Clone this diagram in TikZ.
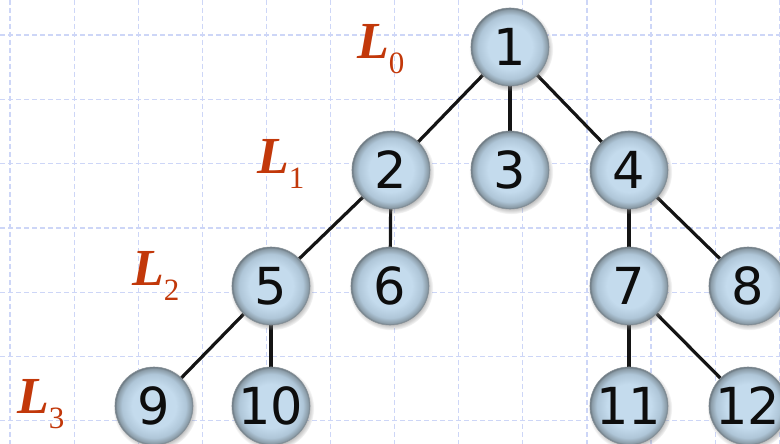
\documentclass[tikz,border=0pt]{standalone}
\usepackage{fontspec}
\setmainfont{Liberation Serif}
\newfontfamily\numfont{DejaVu Sans}
\usetikzlibrary{shadows}
\definecolor{ballin}{HTML}{C4DBED}
\definecolor{ballmid}{HTML}{AFC6D8}
\definecolor{ballout}{HTML}{8C9DA9}
\definecolor{ballrim}{HTML}{6A7780}
\definecolor{gridc}{HTML}{CDD6F7}
\definecolor{lblred}{HTML}{C2380A}
\pgfdeclareradialshading{treeball}{\pgfpoint{0bp}{0bp}}{color(0bp)=(ballin); color(14bp)=(ballin); color(20.5bp)=(ballmid); color(23.8bp)=(ballout); color(25bp)=(ballrim); color(50bp)=(ballrim)}
\tikzset{
  treenode/.style={circle, minimum size=78pt, inner sep=0pt, shading=treeball,
    draw=ballrim!80, line width=0.6pt,
    circular drop shadow={shadow xshift=1pt, shadow yshift=-2pt, shadow scale=1.08, opacity=0.55},
    font=\numfont\fontsize{51}{51}\selectfont, text=black!95},
  treeedge/.style={line width=3.2pt, black!92},
  gridline/.style={gridc, line width=1.2pt, dash pattern=on 5pt off 3pt},
  lvl/.style={anchor=base west, inner sep=0pt, text=lblred}
}
\newcommand{\lvltext}[1]{{\fontsize{52}{52}\selectfont\bfseries\itshape L}\raisebox{-15pt}{\fontsize{31}{31}\selectfont #1}}
\begin{document}
\begin{tikzpicture}[x=1pt,y=-1pt]
\useasboundingbox (0,0) rectangle (780,444);
\fill[white] (0,0) rectangle (780,444);
% grid
\foreach \k in {0,...,12} {
  \draw[gridline] ({10+64.1*\k},0) -- ({10+64.1*\k},444);
}
\foreach \k in {0,...,6} {
  \draw[gridline] (0,{35+64.3*\k}) -- (780,{35+64.3*\k});
}
% labels
\node[lvl] (l0) at (357,59) {\lvltext{0}};
\node[lvl] (l1) at (257,173) {\lvltext{1}};
\node[lvl] (l2) at (132,285) {\lvltext{2}};
\node[lvl] (l3) at (17,413) {\lvltext{3}};
% node positions
\coordinate (p1) at (510,47);
\coordinate (p2) at (391,170);
\coordinate (p3) at (510,170);
\coordinate (p4) at (629,170);
\coordinate (p5) at (271,286);
\coordinate (p6) at (390,286);
\coordinate (p7) at (629,286);
\coordinate (p8) at (748,286);
\coordinate (p9) at (154,406);
\coordinate (p10) at (271,406);
\coordinate (p11) at (629,406);
\coordinate (p12) at (748,406);
% edges
\draw[treeedge] (p1) -- (p2);
\draw[treeedge] (p1) -- (p3);
\draw[treeedge] (p1) -- (p4);
\draw[treeedge] (p2) -- (p5);
\draw[treeedge] (p2) -- (p6);
\draw[treeedge] (p4) -- (p7);
\draw[treeedge] (p4) -- (p8);
\draw[treeedge] (p5) -- (p9);
\draw[treeedge] (p5) -- (p10);
\draw[treeedge] (p7) -- (p11);
\draw[treeedge] (p7) -- (p12);
% nodes
\foreach \i in {1,...,12} {
  \node[treenode] (n\i) at (p\i) {\i};
}
\end{tikzpicture}
\end{document}
